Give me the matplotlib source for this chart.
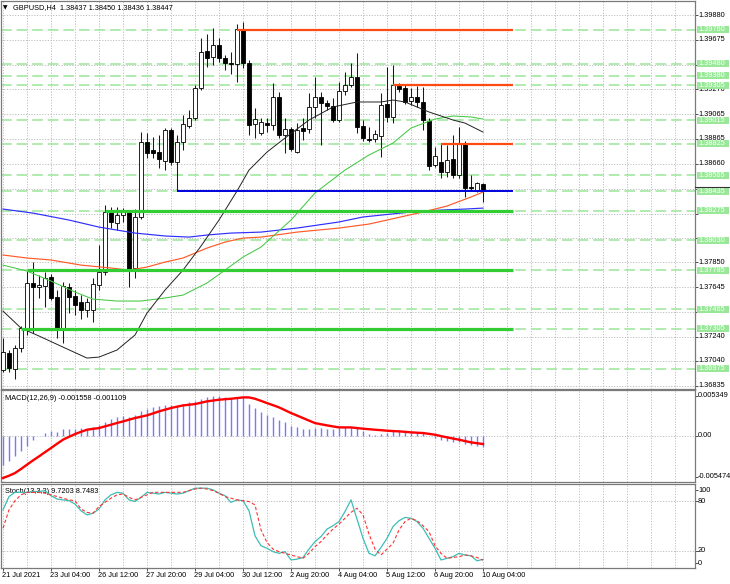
import matplotlib
matplotlib.use('Agg')
import matplotlib.pyplot as plt
from matplotlib.patches import Rectangle
from matplotlib.lines import Line2D
import matplotlib.transforms as mtrans

plt.rcParams['font.family'] = ['Liberation Sans', 'DejaVu Sans']

# ---------------- data (GBPUSD H4) ----------------
opens = [1.36965, 1.37105, 1.36974, 1.37146, 1.37310, 1.37680, 1.37647, 1.37655, 1.37729, 1.37565,
         1.37310, 1.37647, 1.37573, 1.37524, 1.37458, 1.37458, 1.37663, 1.37770, 1.38263, 1.38172,
         1.38238, 1.38263, 1.37803, 1.38222, 1.38837, 1.38772, 1.38755, 1.38681, 1.38936, 1.38673,
         1.38837, 1.38969, 1.39034, 1.39281, 1.39584, 1.39535, 1.39634, 1.39527, 1.39486, 1.39478,
         1.39765, 1.39486, 1.38985, 1.38911, 1.38993, 1.38977, 1.39207, 1.38895, 1.38944, 1.38755,
         1.38952, 1.38944, 1.39125, 1.39207, 1.39158, 1.39133, 1.39018, 1.39256, 1.39305, 1.39371,
         1.38969, 1.38862, 1.38862, 1.38887, 1.39149, 1.39043, 1.39297, 1.39281, 1.39174, 1.39207,
         1.39166, 1.39010, 1.38649, 1.38673, 1.38591, 1.38698, 1.38566, 1.38821, 1.38468, 1.38435,
         1.38493]
highs = [1.37228, 1.37130, 1.37171, 1.37327, 1.37778, 1.37852, 1.37745, 1.37770, 1.37754, 1.37622,
         1.37688, 1.37680, 1.37622, 1.37581, 1.37557, 1.37721, 1.37992, 1.38320, 1.38304, 1.38304,
         1.38295, 1.38279, 1.38287, 1.38919, 1.38911, 1.38878, 1.38895, 1.38952, 1.38952, 1.38895,
         1.39059, 1.39100, 1.39305, 1.39691, 1.39724, 1.39773, 1.39691, 1.39552, 1.39576, 1.39806,
         1.39822, 1.39510, 1.39116, 1.39034, 1.39034, 1.39322, 1.39248, 1.39034, 1.38960, 1.38993,
         1.39034, 1.39240, 1.39371, 1.39248, 1.39182, 1.39199, 1.39330, 1.39412, 1.39486, 1.39568,
         1.39018, 1.38960, 1.38936, 1.39240, 1.39453, 1.39469, 1.39322, 1.39305, 1.39281, 1.39297,
         1.39289, 1.39034, 1.38796, 1.38829, 1.38813, 1.38895, 1.38960, 1.38846, 1.38566, 1.38509,
         1.38501]
lows = [1.36949, 1.36949, 1.36892, 1.37113, 1.37253, 1.37269, 1.37557, 1.37483, 1.37540, 1.37228,
        1.37187, 1.37433, 1.37417, 1.37384, 1.37401, 1.37360, 1.37622, 1.37745, 1.38131, 1.38115,
        1.38181, 1.37647, 1.37721, 1.38205, 1.38706, 1.38706, 1.38624, 1.38607, 1.38649, 1.38435,
        1.38772, 1.38952, 1.39018, 1.39264, 1.39453, 1.39469, 1.39494, 1.39428, 1.39396, 1.39330,
        1.39445, 1.38895, 1.38870, 1.38895, 1.38919, 1.38936, 1.38870, 1.38747, 1.38763, 1.38747,
        1.38854, 1.38911, 1.39034, 1.38813, 1.39100, 1.39001, 1.39001, 1.39223, 1.39289, 1.38911,
        1.38846, 1.38837, 1.38837, 1.38714, 1.39001, 1.38993, 1.39248, 1.39149, 1.39141, 1.39125,
        1.38936, 1.38607, 1.38632, 1.38542, 1.38550, 1.38542, 1.38542, 1.38386, 1.38443, 1.38427,
        1.38345]
closes = [1.37113, 1.36982, 1.37146, 1.37310, 1.37680, 1.37647, 1.37663, 1.37721, 1.37557, 1.37310,
          1.37655, 1.37565, 1.37499, 1.37458, 1.37524, 1.37671, 1.37770, 1.38263, 1.38181, 1.38238,
          1.38263, 1.37795, 1.38222, 1.38837, 1.38747, 1.38747, 1.38698, 1.38936, 1.38673, 1.38837,
          1.38985, 1.39034, 1.39281, 1.39576, 1.39527, 1.39634, 1.39527, 1.39486, 1.39478, 1.39765,
          1.39486, 1.38977, 1.39026, 1.39001, 1.38977, 1.39207, 1.38895, 1.38944, 1.38780, 1.38936,
          1.38928, 1.39125, 1.39207, 1.39158, 1.39133, 1.39018, 1.39256, 1.39305, 1.39371, 1.38960,
          1.38870, 1.38854, 1.38903, 1.39141, 1.39043, 1.39305, 1.39272, 1.39166, 1.39207, 1.39166,
          1.39018, 1.38640, 1.38722, 1.38591, 1.38690, 1.38566, 1.38821, 1.38460, 1.38460, 1.38501,
          1.38443]

# moving averages read at sample bars
ma_black_bars = [0, 3, 6, 10, 14, 16, 19, 22, 24, 27, 30, 33, 36, 39, 41, 44, 47, 51, 55, 59, 63, 65, 67, 71, 75, 77, 80]
ma_black = [1.37450, 1.37310, 1.37245, 1.37154, 1.37064, 1.37072, 1.37130, 1.37253, 1.37433, 1.37622,
            1.37786, 1.37983, 1.38197, 1.38435, 1.38607, 1.38755, 1.38870, 1.39018, 1.39125, 1.39166,
            1.39166, 1.39182, 1.39166, 1.39084, 1.39018, 1.38993, 1.38919]
ma_green_bars = [0, 4, 8, 12, 15, 19, 23, 27, 30, 34, 37, 40, 43, 48, 52, 57, 61, 65, 68, 72, 75, 78, 80]
ma_green = [1.37827, 1.37778, 1.37696, 1.37606, 1.37548, 1.37532, 1.37532, 1.37557, 1.37581, 1.37680,
            1.37786, 1.37893, 1.37975, 1.38197, 1.38419, 1.38607, 1.38731, 1.38829, 1.38952, 1.39026,
            1.39051, 1.39043, 1.39026]
ma_red_bars = [0, 4, 8, 13, 18, 21, 24, 27, 30, 34, 37, 40, 43, 49, 56, 61, 64, 70, 74, 78, 80]
ma_red = [1.37910, 1.37885, 1.37869, 1.37827, 1.37803, 1.37786, 1.37811, 1.37852, 1.37885, 1.37967,
          1.38016, 1.38049, 1.38057, 1.38098, 1.38131, 1.38164, 1.38197, 1.38263, 1.38312, 1.38386,
          1.38427]
ma_blue_bars = [0, 5, 11, 16, 22, 27, 31, 34, 38, 43, 49, 56, 60, 68, 73, 77, 80]
ma_blue = [1.38287, 1.38254, 1.38197, 1.38139, 1.38090, 1.38066, 1.38057, 1.38074, 1.38090, 1.38098,
           1.38131, 1.38181, 1.38222, 1.38263, 1.38279, 1.38287, 1.38295]

# horizontal levels
dashed_levels = [1.39760, 1.39480, 1.39380, 1.39305, 1.39015, 1.38825, 1.38565, 1.38435,
                 1.38275, 1.38030, 1.37785, 1.37465, 1.37305, 1.36975]
green_lines = [1.38275, 1.37785, 1.37305]
green_starts = [17, 4, 3]
orange_lines = [1.39760, 1.39305, 1.38825]
orange_starts = [39, 65, 73]
blue_line = 1.38435
blue_start = 29
line_end = 85

price_ticks = [1.39880, 1.39675, 1.39470, 1.39270, 1.39065, 1.38865, 1.38660, 1.38455,
               1.38250, 1.38050, 1.37850, 1.37645, 1.37445, 1.37240, 1.37040, 1.36835]
price_tick_labels = ['1.39880', '1.39675', '1.39470', '1.39270', '1.39065', '1.38865', '1.38660', '1.38455',
                     '1.38250', '1.38050', '1.37850', '1.37645', '1.37445', '1.37240', '1.37040', '1.36835']

# MACD (12,26,9)
macd_hist = [-0.00387, -0.00343, -0.00276, -0.00210, -0.00134, -0.00053, -0.00010, 0.00036, 0.00058, 0.00045,
             0.00089, 0.00089, 0.00089, 0.00102, 0.00089, 0.00116, 0.00147, 0.00182, 0.00223, 0.00250,
             0.00267, 0.00250, 0.00272, 0.00325, 0.00361, 0.00379, 0.00392, 0.00405, 0.00405, 0.00401,
             0.00427, 0.00450, 0.00468, 0.00494, 0.00512, 0.00525, 0.00525, 0.00512, 0.00503, 0.00512,
             0.00512, 0.00423, 0.00370, 0.00312, 0.00272, 0.00250, 0.00205, 0.00182, 0.00134, 0.00116,
             0.00094, 0.00094, 0.00102, 0.00102, 0.00094, 0.00089, 0.00102, 0.00111, 0.00116, 0.00102,
             0.00058, 0.00027, 0.00013, 0.00020, 0.00036, 0.00058, 0.00058, 0.00045, 0.00045, 0.00045,
             0.00036, 0.00000, -0.00031, -0.00053, -0.00067, -0.00085, -0.00089, -0.00111, -0.00120, -0.00134,
             -0.001558]
macd_signal = [-0.00565, -0.00535, -0.00499, -0.00445, -0.00387, -0.00330, -0.00276, -0.00220, -0.00165, -0.00108,
               -0.00053, -0.00015, 0.00022, 0.00052, 0.00080, 0.00092, 0.00102, 0.00125, 0.00147, 0.00170,
               0.00191, 0.00214, 0.00236, 0.00254, 0.00272, 0.00298, 0.00325, 0.00348, 0.00370, 0.00388,
               0.00405, 0.00414, 0.00423, 0.00441, 0.00459, 0.00470, 0.00481, 0.00488, 0.00494, 0.00503,
               0.00512, 0.00512, 0.00494, 0.00466, 0.00436, 0.00408, 0.00379, 0.00341, 0.00303, 0.00270,
               0.00236, 0.00202, 0.00169, 0.00153, 0.00138, 0.00124, 0.00111, 0.00111, 0.00111, 0.00102,
               0.00094, 0.00087, 0.00080, 0.00074, 0.00067, 0.00062, 0.00058, 0.00052, 0.00045, 0.00040,
               0.00036, 0.00025, 0.00013, -0.00005, -0.00022, -0.00038, -0.00053, -0.00071, -0.00089, -0.00100,
               -0.001109]

# Stochastic (13,3,3)
stoch_main = [69, 85, 90, 90, 90, 91, 91, 92, 86, 82, 81, 80, 76, 68, 63, 65, 70, 81, 87, 90,
              89, 81, 79, 84, 90, 89, 88, 90, 89, 88, 89, 92, 95, 95, 95, 93, 89, 86, 78, 81,
              80, 68, 38, 26, 23, 19, 17, 19, 9, 10, 12, 22, 31, 37, 46, 50, 55, 67, 81, 58,
              35, 17, 14, 24, 35, 49, 56, 60, 59, 55, 47, 35, 23, 9, 11, 13, 17, 15, 14, 8,
              9.7203]
stoch_signal = [47, 69, 80, 87, 90, 90, 90, 89, 87, 85, 83, 81, 80, 70, 66, 65, 73, 78, 83, 87,
                88, 84, 81, 84, 87, 90, 90, 90, 90, 90, 90, 92, 94, 95, 94, 92, 89, 85, 83, 81,
                80, 79, 75, 45, 30, 22, 19, 17, 15, 13, 11, 17, 25, 31, 39, 46, 52, 59, 66, 71,
                63, 40, 22, 15, 22, 29, 45, 55, 59, 56, 50, 43, 26, 17, 11, 12, 13, 15, 14, 12,
                8.7483]

date_bars = [0, 8, 16, 24, 32, 40, 48, 56, 64, 72, 80]
date_labels = ['21 Jul 2021', '23 Jul 04:00', '26 Jul 12:00', '27 Jul 20:00', '29 Jul 04:00',
               '30 Jul 12:00', '2 Aug 20:00', '4 Aug 04:00', '5 Aug 12:00', '6 Aug 20:00', '10 Aug 04:00']

# ---------------- figure ----------------
W, H = 730, 584
fig = plt.figure(figsize=(W / 100, H / 100), dpi=100)
fig.patch.set_facecolor('white')


def rect(top, bottom, left=1, right=695):
    return [left / W, 1 - bottom / H, (right - left) / W, (bottom - top) / H]


ax = fig.add_axes(rect(1, 389))
axm = fig.add_axes(rect(390, 481.5))
axs = fig.add_axes(rect(484, 567.5))

XMIN, XMAX = -0.333, 115.333
FS = 5.3
GRID = dict(color='#BDBDBD', lw=0.7, ls=(0, (1.2, 1.6)), zorder=0.5)
n = len(closes)

for a in (ax, axm, axs):
    a.set_xlim(XMIN, XMAX)
    a.set_facecolor('white')
    for s in a.spines.values():
        s.set_color('#7A7A7A')
        s.set_linewidth(0.9)
    for b in range(0, 116, 4):
        a.axvline(b, **GRID)
    a.yaxis.tick_right()
    a.tick_params(axis='y', direction='out', length=2.5, width=0.6, color='#333333',
                  labelright=False, labelleft=False)
    a.tick_params(axis='x', direction='out', length=2.5, width=0.6, color='#333333', labelbottom=False)
    a.set_xticks([])

# ---- main price panel ----
ax.set_ylim(1.36810, 1.39995)
ax.set_yticks(price_ticks)
for p in price_ticks:
    ax.axhline(p, **GRID)
for lv in dashed_levels:
    ax.axhline(lv, color='#9BE69B', lw=1.1, ls=(0, (7, 3.2)), zorder=1)

for i in range(n):
    o, h, l, c = opens[i], highs[i], lows[i], closes[i]
    ax.vlines(i, l, h, color='#1A1A1A', lw=0.75, zorder=3)
    bull = c >= o
    lo = min(o, c)
    hgt = max(abs(c - o), 0.00003)
    ax.add_patch(Rectangle((i - 0.32, lo), 0.64, hgt, facecolor='white' if bull else 'black',
                           edgecolor='black', lw=0.6, zorder=3.2))

ax.plot(ma_blue_bars, ma_blue, color='#2E2EFF', lw=0.85, zorder=4)
ax.plot(ma_red_bars, ma_red, color='#FF5A28', lw=0.85, zorder=4)
ax.plot(ma_green_bars, ma_green, color='#44C844', lw=0.75, zorder=4)
ax.plot(ma_black_bars, ma_black, color='#222222', lw=0.7, zorder=4)

for lv, st in zip(green_lines, green_starts):
    ax.plot([st, line_end], [lv, lv], color='#32CD32', lw=2.3, zorder=5, solid_capstyle='butt')
for lv, st in zip(orange_lines, orange_starts):
    ax.plot([st, line_end], [lv, lv], color='#FF4A14', lw=1.6, zorder=5, solid_capstyle='butt')
ax.plot([blue_start, line_end], [blue_line, blue_line], color='#0000E0', lw=1.4, zorder=5,
        solid_capstyle='butt')

tr = mtrans.blended_transform_factory(ax.transAxes, ax.transData)
ax_w = 694.0
xlab = (698 - 1) / ax_w
ylo, yhi = ax.get_ylim()
box_h = 7.0 * (yhi - ylo) / 388.0
for p, s in zip(price_ticks, price_tick_labels):
    # a tick label lying fully under a level box is not visible in the chart
    if any(abs(p - lv) < box_h * 0.45 for lv in dashed_levels):
        continue
    ax.text(xlab, p, s, transform=tr, fontsize=FS, va='center', ha='left', color='black',
            clip_on=False, zorder=2)
for lv in dashed_levels:
    ax.add_patch(Rectangle(((697 - 1) / ax_w, lv - box_h / 2), (729 - 697) / ax_w, box_h,
                           transform=tr, facecolor='#98E898', edgecolor='none',
                           clip_on=False, zorder=6))
    ax.text(xlab, lv, '%.5f' % lv, transform=tr, fontsize=FS, va='center', ha='left',
            color='white', clip_on=False, zorder=7)
ax.add_line(Line2D([1.0, 1.05], [closes[-1] + 0.00028] * 2, transform=tr, color='#333333',
                   lw=0.8, clip_on=False, zorder=8))

ax.text(0.003, 0.982, '▼', transform=ax.transAxes, fontsize=4.2, va='center', ha='left',
        color='black', family=['DejaVu Sans'])
ax.text((13 - 1) / ax_w, 0.982,
        'GBPUSD,H4  %.5f %.5f %.5f %.5f' % (1.38437, 1.38450, 1.38436, closes[-1] + 0.00004),
        transform=ax.transAxes, fontsize=FS, va='center', ha='left', color='black')

# ---- MACD panel ----
axm.set_ylim(-0.00612, 0.00611)
axm.axhline(0, **GRID)
axm.vlines(range(n), 0, macd_hist, color='#7878FF', lw=1.0, zorder=3)
axm.plot(range(n), macd_signal, color='#FF0000', lw=1.7, zorder=4)
mticks = [0.005349, 0.0, -0.005474]
axm.set_yticks(mticks)
trm = mtrans.blended_transform_factory(axm.transAxes, axm.transData)
for v, s in zip(mticks, ['0.005349', '0.00', '-0.005474']):
    axm.text(xlab, v, s, transform=trm, fontsize=FS, va='center', ha='left', clip_on=False)
axm.text(0.006, 0.909, 'MACD(12,26,9) -0.001558 -0.001109', transform=axm.transAxes,
         fontsize=FS, va='center', ha='left')

# ---- Stochastic panel ----
axs.set_ylim(0, 100)
axs.axhline(80, **GRID)
axs.axhline(20, **GRID)
axs.plot(range(n), stoch_main, color='#3CBDB5', lw=0.9, zorder=4)
axs.plot(range(n), stoch_signal, color='#FF3030', lw=0.8, ls=(0, (3, 2)), zorder=4)
axs.set_yticks([92.8, 80, 20, 5])
trs = mtrans.blended_transform_factory(axs.transAxes, axs.transData)
for v, s in zip([92.8, 79, 20, 5], ['100', '80', '20', '0']):
    axs.text(xlab, v, s, transform=trs, fontsize=FS, va='center', ha='left', clip_on=False)
axs.text(0.006, 0.908, 'Stoch(13,3,3) 9.7203 8.7483', transform=axs.transAxes,
         fontsize=FS, va='center', ha='left')

axs.set_xticks(date_bars)
trx = mtrans.blended_transform_factory(axs.transData, axs.transAxes)
for b, s in zip(date_bars, date_labels):
    axs.text(b - 0.1, -0.1, s, transform=trx, fontsize=FS, va='center', ha='left', clip_on=False)

fig.savefig('out.png', dpi=100, facecolor='white')
